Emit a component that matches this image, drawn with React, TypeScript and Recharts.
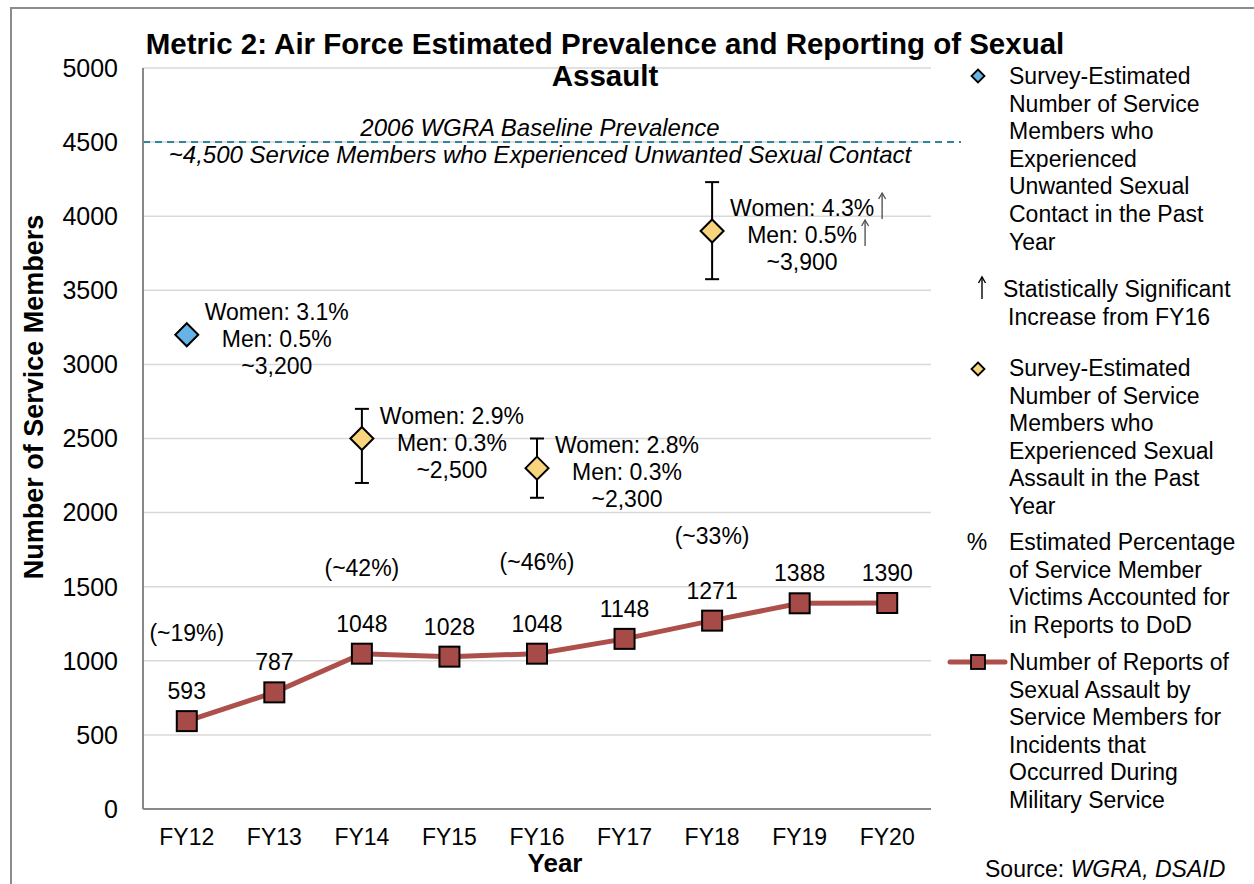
import React from "react";
import {
  ComposedChart,
  Line,
  Scatter,
  XAxis,
  YAxis,
  CartesianGrid,
  ReferenceLine,
  ErrorBar,
  LabelList,
} from "recharts";

const FONT = '"Liberation Sans", Arial, Helvetica, sans-serif';
const RED = "#a64b47";
const LINE_RED = "#ad504c";
const BLUE = "#68b3e5";
const GOLD = "#f8d47c";
const TEAL = "#31849b";

// reports line
const years = ["FY12", "FY13", "FY14", "FY15", "FY16", "FY17", "FY18", "FY19", "FY20"];
const reports = [593, 787, 1048, 1028, 1048, 1148, 1271, 1388, 1390];

// unwanted sexual contact estimate (FY12)
const contactYears = ["FY12"];
const contactValues = [3200];
const contactWomen = ["Women: 3.1%"];
const contactMen = ["Men: 0.5%"];
const contactTotal = ["~3,200"];

// sexual assault estimates with error ranges
const assaultYears = ["FY14", "FY16", "FY18"];
const assaultValues = [2500, 2300, 3900];
const assaultLow = [2200, 2100, 3575];
const assaultHigh = [2700, 2500, 4230];
const assaultWomen = ["Women: 2.9%", "Women: 2.8%", "Women: 4.3%"];
const assaultMen = ["Men: 0.3%", "Men: 0.3%", "Men: 0.5%"];
const assaultTotal = ["~2,500", "~2,300", "~3,900"];
const assaultWomenUp = [false, false, true];
const assaultMenUp = [false, false, true];

// percent accounted for
const pctYears = ["FY12", "FY14", "FY16", "FY18"];
const pctLabels = ["(~19%)", "(~42%)", "(~46%)", "(~33%)"];
const pctLevels = [1190, 1625, 1665, 1840];

const yTicks = [0, 500, 1000, 1500, 2000, 2500, 3000, 3500, 4000, 4500, 5000];
const baselineValue = 4500;
const baselineText = [
  "2006 WGRA Baseline Prevalence",
  "~4,500 Service Members who Experienced Unwanted Sexual Contact",
];

const legendContact = [
  "Survey-Estimated",
  "Number of Service",
  "Members who",
  "Experienced",
  "Unwanted Sexual",
  "Contact in the Past",
  "Year",
];
const legendSig = ["Statistically Significant", "Increase from FY16"];
const legendAssault = [
  "Survey-Estimated",
  "Number of Service",
  "Members who",
  "Experienced Sexual",
  "Assault in the Past",
  "Year",
];
const legendPct = [
  "Estimated Percentage",
  "of Service Member",
  "Victims Accounted for",
  "in Reports to DoD",
];
const legendReports = [
  "Number of Reports of",
  "Sexual Assault by",
  "Service Members for",
  "Incidents that",
  "Occurred During",
  "Military Service",
];

const LH = 27.6;

let measureCtx: CanvasRenderingContext2D | null = null;
function textWidth(t: string, size: number) {
  if (!measureCtx) measureCtx = document.createElement("canvas").getContext("2d");
  if (!measureCtx) return t.length * size * 0.55;
  measureCtx.font = `${size}px ${FONT}`;
  return measureCtx.measureText(t).width;
}

// thin upward arrow, bottom at (x, y)
function UpArrow({ x, y, h, color }: { x: number; y: number; h: number; color: string }) {
  return (
    <g stroke={color} fill="none" strokeWidth={1.4}>
      <line x1={x} y1={y} x2={x} y2={y - h} />
      <path d={`M${x - 3.5},${y - h + 6} L${x},${y - h} L${x + 3.5},${y - h + 6}`} />
    </g>
  );
}

function diamondShape(fill: string) {
  return (props: any) => {
    const { cx, cy, payload } = props;
    const r = 11.5;
    return (
      <g>
        <polygon
          points={`${cx},${cy - r} ${cx + r},${cy} ${cx},${cy + r} ${cx - r},${cy}`}
          fill={fill}
          stroke="#000"
          strokeWidth={2}
        />
        {payload.notes.map((t: string, k: number) => {
          const tx = cx + 90;
          const ty = cy - 15 + k * 27;
          return (
            <g key={k}>
              <text x={tx} y={ty} textAnchor="middle" fontSize={23} fontFamily={FONT} fill="#000">
                {t}
              </text>
              {payload.sig[k] ? (
                <UpArrow x={tx + textWidth(t, 23) / 2 + 8} y={ty + 3} h={26} color="#555" />
              ) : null}
            </g>
          );
        })}
      </g>
    );
  };
}

const pctShape = (props: any) => {
  const { cx, cy, payload } = props;
  return (
    <text x={cx} y={cy + 8} textAnchor="middle" fontSize={23} fontFamily={FONT} fill="#000">
      {payload.text}
    </text>
  );
};

const squareDot = (props: any) => {
  const { cx, cy, index } = props;
  return (
    <rect
      key={`sq-${index}`}
      x={cx - 10}
      y={cy - 10}
      width={20}
      height={20}
      fill={RED}
      stroke="#000"
      strokeWidth={2}
    />
  );
};

const reportLabel = (p: any) => {
  const x = p.x ?? p.viewBox?.x;
  const y = p.y ?? p.viewBox?.y;
  return (
    <text x={x} y={y - 22} textAnchor="middle" fontSize={23} fontFamily={FONT} fill="#000">
      {p.value}
    </text>
  );
};

const baselineShape = (p: any) => {
  const mid = (p.x1 + p.x2) / 2 + 3;
  return (
    <g>
      <line
        x1={p.x1}
        y1={p.y1}
        x2={p.x2 + 30}
        y2={p.y2}
        stroke={TEAL}
        strokeWidth={2}
        strokeDasharray="7 5"
      />
      <text x={mid} y={p.y1 - 6} textAnchor="middle" fontSize={24} fontStyle="italic" fontFamily={FONT} fill="#000">
        {baselineText[0]}
      </text>
      <text x={mid} y={p.y1 + 21} textAnchor="middle" fontSize={24} fontStyle="italic" fontFamily={FONT} fill="#000">
        {baselineText[1]}
      </text>
    </g>
  );
};

function LegendLines({ x, y, lines }: { x: number; y: number; lines: string[] }) {
  return (
    <>
      {lines.map((t, k) => (
        <text key={k} x={x} y={y + k * LH} fontSize={23} fontFamily={FONT} fill="#000">
          {t}
        </text>
      ))}
    </>
  );
}

const smallDiamond = (cx: number, cy: number, fill: string) => {
  const r = 6.5;
  return (
    <polygon
      points={`${cx},${cy - r} ${cx + r},${cy} ${cx},${cy + r} ${cx - r},${cy}`}
      fill={fill}
      stroke="#000"
      strokeWidth={1.8}
    />
  );
};

export default function App() {
  const data = years.map((year, i) => ({ year, reports: reports[i] }));
  const contactData = contactYears.map((year, i) => ({
    year,
    value: contactValues[i],
    notes: [contactWomen[i], contactMen[i], contactTotal[i]],
    sig: [false, false, false],
  }));
  const assaultData = assaultYears.map((year, i) => ({
    year,
    value: assaultValues[i],
    err: [assaultValues[i] - assaultLow[i], assaultHigh[i] - assaultValues[i]],
    notes: [assaultWomen[i], assaultMen[i], assaultTotal[i]],
    sig: [assaultWomenUp[i], assaultMenUp[i], false],
  }));
  const pctData = pctYears.map((year, i) => ({ year, value: pctLevels[i], text: pctLabels[i] }));

  return (
    <div
      style={{
        position: "absolute",
        left: 0,
        top: 0,
        width: 1254,
        height: 884,
        background: "#fff",
        fontFamily: FONT,
        overflow: "hidden",
      }}
    >
      <ComposedChart
        width={1254}
        height={884}
        data={data}
        margin={{ top: 68, right: 323, bottom: 35, left: 0 }}
      >
        <CartesianGrid vertical={false} stroke="#d9d9d9" strokeWidth={1.5} />
        <XAxis
          dataKey="year"
          type="category"
          scale="band"
          allowDuplicatedCategory={false}
          ticks={years}
          height={40}
          tickLine={false}
          axisLine={{ stroke: "#898989", strokeWidth: 2 }}
          tickMargin={14}
          tick={{ fontSize: 23, fill: "#000", fontFamily: FONT }}
          interval={0}
        />
        <YAxis
          width={143}
          domain={[0, 5000]}
          ticks={yTicks}
          interval={0}
          tickLine={false}
          axisLine={{ stroke: "#898989", strokeWidth: 2 }}
          tickMargin={19}
          tick={{ fontSize: 25, fill: "#000", fontFamily: FONT }}
        />
        <ReferenceLine y={baselineValue} ifOverflow="visible" shape={baselineShape} />
        <Line
          dataKey="reports"
          type="linear"
          stroke={LINE_RED}
          strokeWidth={5}
          dot={squareDot}
          activeDot={false}
          isAnimationActive={false}
        >
          <LabelList dataKey="reports" content={reportLabel} />
        </Line>
        <Scatter
          data={contactData}
          dataKey="value"
          shape={diamondShape(BLUE)}
          isAnimationActive={false}
        />
        <Scatter
          data={assaultData}
          dataKey="value"
          shape={diamondShape(GOLD)}
          isAnimationActive={false}
        >
          <ErrorBar dataKey="err" direction="y" width={7} stroke="#000" strokeWidth={2} />
        </Scatter>
        <Scatter data={pctData} dataKey="value" shape={pctShape} isAnimationActive={false} />
      </ComposedChart>

      <svg
        width={1254}
        height={884}
        style={{ position: "absolute", left: 0, top: 0, pointerEvents: "none" }}
      >
        <rect x={11} y={8} width={1300} height={900} fill="none" stroke="#8c8c8c" strokeWidth={2} />
        <text x={605} y={54} textAnchor="middle" fontSize={29.5} fontWeight="bold" fontFamily={FONT} fill="#000">
          Metric 2: Air Force Estimated Prevalence and Reporting of Sexual
        </text>
        <text x={605} y={86} textAnchor="middle" fontSize={29.5} fontWeight="bold" fontFamily={FONT} fill="#000">
          Assault
        </text>
        <text
          transform="translate(43,397) rotate(-90)"
          textAnchor="middle"
          fontSize={27}
          fontWeight="bold"
          fontFamily={FONT}
          fill="#000"
        >
          Number of Service Members
        </text>
        <text x={555} y={872} textAnchor="middle" fontSize={26} fontWeight="bold" fontFamily={FONT} fill="#000">
          Year
        </text>
        <text x={985} y={877} fontSize={23} fontFamily={FONT} fill="#000">
          Source: <tspan fontStyle="italic">WGRA, DSAID</tspan>
        </text>

        {smallDiamond(978, 76, BLUE)}
        <LegendLines x={1009} y={84} lines={legendContact} />

        <UpArrow x={982} y={299} h={22} color="#000" />
        <text x={1003} y={297} fontSize={23} fontFamily={FONT} fill="#000">
          {legendSig[0]}
        </text>
        <text x={1008} y={297 + LH} fontSize={23} fontFamily={FONT} fill="#000">
          {legendSig[1]}
        </text>

        {smallDiamond(978, 369, GOLD)}
        <LegendLines x={1009} y={376} lines={legendAssault} />

        <text x={977} y={550} textAnchor="middle" fontSize={23} fontFamily={FONT} fill="#000">
          %
        </text>
        <LegendLines x={1009} y={550} lines={legendPct} />

        <line x1={950} y1={662} x2={1005} y2={662} stroke={LINE_RED} strokeWidth={5} strokeLinecap="round" />
        <rect x={971} y={655} width={14} height={14} fill={RED} stroke="#000" strokeWidth={1.8} />
        <LegendLines x={1009} y={670} lines={legendReports} />
      </svg>
    </div>
  );
}
